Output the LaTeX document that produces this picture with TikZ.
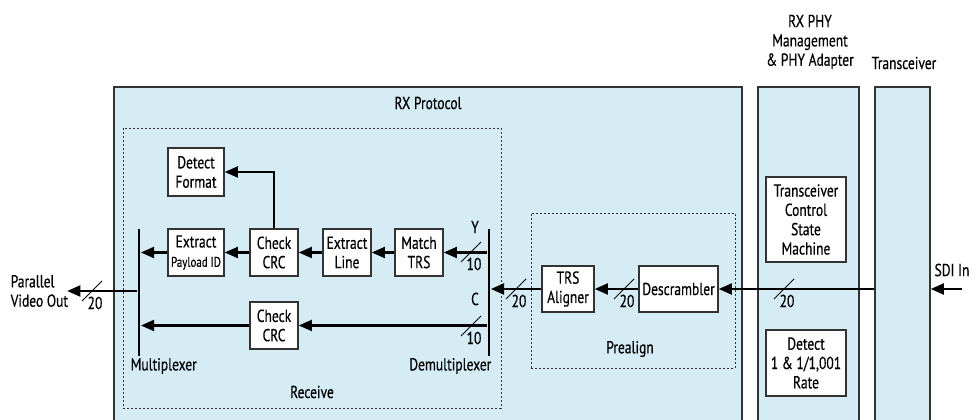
\documentclass[tikz,border=0pt]{standalone}
\usepackage{fontspec}
\setmainfont[FakeStretch=0.78, FakeBold=0.4]{PT Sans}
\usetikzlibrary{arrows.meta}
\usetikzlibrary{fit}
\definecolor{rxblue}{RGB}{214,236,245}
\definecolor{rxline}{RGB}{51,51,51}

\begin{document}
\begin{tikzpicture}[x=0.75pt, y=-0.75pt, font=\fontsize{13}{14.5}\selectfont,
		region/.style={draw=rxline, fill=rxblue, line width=0.8pt, inner sep=0pt},
		subarea/.style={draw=rxline, dash pattern=on 1.5pt off 1.5pt, line width=0.7pt, inner sep=0pt},
		blk/.style={draw=rxline, fill=white, line width=0.8pt, align=center, inner sep=1pt},
		bar/.style={fill=black, inner sep=0pt, minimum width=2.2pt, minimum height=95.25pt},
		sig/.style={line width=2.2pt, -{Triangle[length=10pt, width=8pt]}}]
		\useasboundingbox (0,0) rectangle (976,420);

		% regions
		\node[region, fit={(114,87) (742,432)}] (proto) {};
		\node[region, fit={(758,87) (859,432)}] (phy) {};
		\node[region, fit={(875,87) (930,432)}] (xcvr) {};
		\node[subarea, fit={(123,128) (501,408)}] (rcv) {};
		\node[subarea, fit={(531,213) (735,368)}] (pre) {};

		\node[align=center] at (810,42) {RX PHY\\Management\\\& PHY Adapter};
		\node at (904,63) {Transceiver};
		\node at (428,103) {RX Protocol};
		\node at (312,392) {Receive};
		\node at (630,349) {Prealign};

		% blocks
		\node[blk, minimum width=42pt, minimum height=36pt] (fmt) at (196,172) {Detect\\Format};
		\node[blk, minimum width=42pt, minimum height=35.25pt] (pid) at (196,252.5) {Extract\\{\fontsize{10.5}{12}\selectfont Payload ID}};
		\node[blk, minimum width=36pt, minimum height=35.25pt] (crcy) at (274,252.5) {Check\\CRC};
		\node[blk, minimum width=36pt, minimum height=35.25pt] (line) at (347,252.5) {Extract\\Line};
		\node[blk, minimum width=36pt, minimum height=35.25pt] (trs) at (419,252.5) {Match\\TRS};
		\node[blk, minimum width=36pt, minimum height=35.25pt] (crcc) at (274,325.5) {Check\\CRC};
		\node[blk, minimum width=39pt, minimum height=34.5pt] (align) at (568,289) {TRS\\Aligner};
		\node[blk, minimum width=59.25pt, minimum height=34.5pt] (descr) at (678.5,289) {Descrambler};
		\node[blk, minimum width=60pt, minimum height=63.75pt] (tcsm) at (806,219.5) {Transceiver\\Control\\State\\Machine};
		\node[blk, minimum width=60pt, minimum height=49.5pt] (rate) at (806,363) {Detect\\1 \& 1/1,001\\Rate};

		\node[bar] (mux) at (139,292.5) {};
		\node[bar] (demux) at (489,292.5) {};
		\node[anchor=west] at (126,366) {Multiplexer};
		\node[anchor=east] at (496,366) {Demultiplexer};
		\node at (475,227) {Y};
		\node at (475,299) {C};
		\node[anchor=west, align=left] at (6,291) {Parallel\\Video Out};
		\node at (952,270) {SDI In};

		\coordinate (out) at (67,291);
		\coordinate (sdi) at (962,289);

		% connectors
		\draw[sig] (demux.west |- trs) -- (trs.east);
		\draw[sig] (trs.west) -- (line.east);
		\draw[sig] (line.west) -- (crcy.east);
		\draw[sig] (crcy.west) -- (pid.east);
		\draw[sig] (pid.west) -- (mux.east |- pid);
		\draw[sig] (crcy.north) |- (fmt.east);
		\draw[sig] (demux.west |- crcc) -- (crcc.east);
		\draw[sig] (crcc.west) -- (mux.east |- crcc);
		\draw[sig] (mux.west |- out) -- (out);
		\draw[sig] (align.west) -- (demux.east |- align);
		\draw[sig] (descr.west) -- (align.east);
		\draw[sig] (xcvr.west |- descr) -- (descr.east);
		\draw[sig] (sdi) -- (xcvr.east |- sdi);

		% bus widths
		\foreach \x/\y/\n in {92/291/20, 471/252/10, 471/326/10, 516/289/20, 624/289/20, 784/289/20}
		{
			\draw[line width=0.6pt] (\x-10,\y+10) -- (\x+10,\y-10);
			\node at (\x+3,\y+12) {\n};
		}
	\end{tikzpicture}
\end{document}
